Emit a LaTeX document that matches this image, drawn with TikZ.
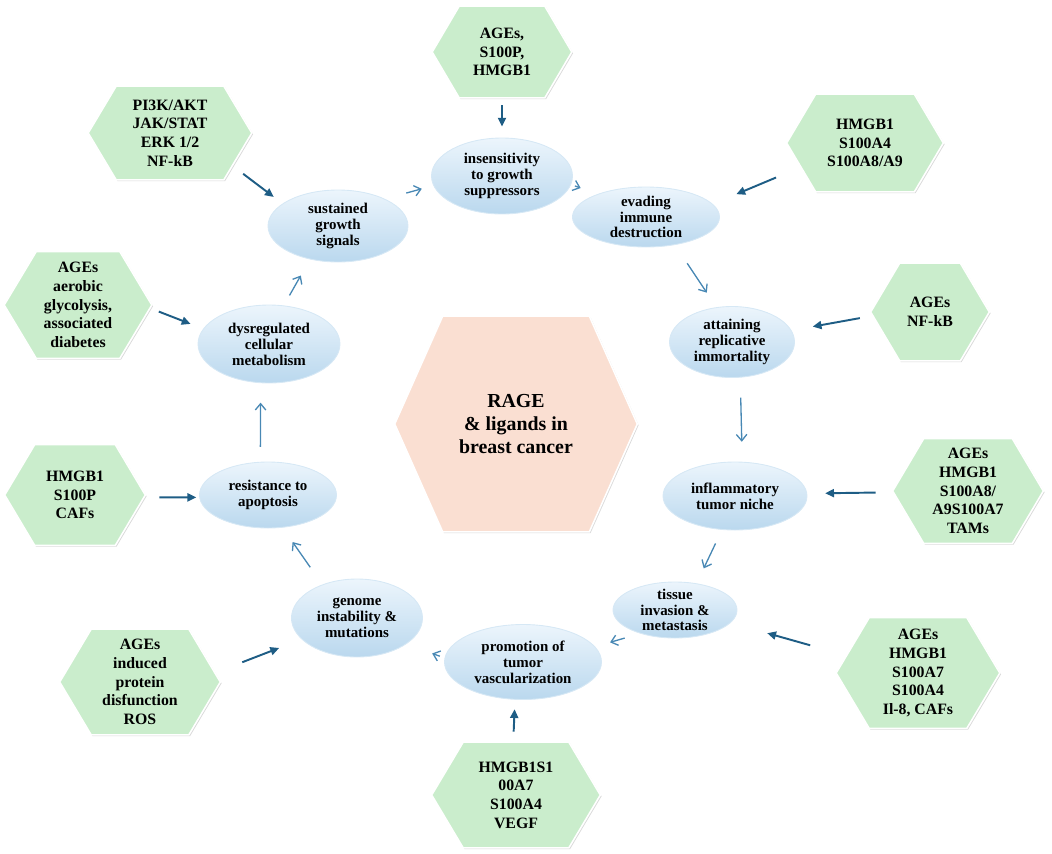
\documentclass[tikz,border=0pt]{standalone}
\usepackage{fontspec}
\setmainfont{Liberation Serif}
\usetikzlibrary{shapes.geometric,arrows.meta,shadows,backgrounds}
\definecolor{hexgreen}{RGB}{202,237,204}
\definecolor{ragepink}{RGB}{250,223,210}
\definecolor{elltop}{RGB}{236,245,252}
\definecolor{ellbottom}{RGB}{186,216,238}
\definecolor{darkarrow}{RGB}{30,93,133}
\definecolor{lightarrow}{RGB}{72,136,180}

\begin{document}
\begin{tikzpicture}[x=0.02cm,y=-0.02cm,
  hexa/.style={inner sep=0pt,align=center,font=\fontsize{9}{10.6}\selectfont\bfseries},
  hexsize/.style 2 args={minimum width=#1cm,minimum height=#2cm},
  hexline/.style={draw=white,line width=0.9pt,
    drop shadow={opacity=0.3,shadow xshift=0.7pt,shadow yshift=-0.7pt}},
  ell/.style={ellipse,inner sep=0pt,top color=elltop,bottom color=ellbottom,
    draw=ellbottom!60!white,line width=0.5pt,align=center,
    font=\fontsize{8.5}{9.1}\selectfont\bfseries},
  ellsize/.style 2 args={minimum width=#1cm,minimum height=#2cm},
  flat/.style={inner sep=-1.5pt,font=\fontsize{8.5}{8.8}\selectfont\bfseries},
  darr/.style={-{Triangle[length=5pt,width=4.6pt]},draw=darkarrow,line width=1.1pt},
  cyc/.style={-{Straight Barb[length=3.6pt,width=6pt]},draw=lightarrow,line width=0.75pt}]
\useasboundingbox (0,0) rectangle (1052,853);

\node[hexa,hexsize={4.84}{4.3},font=\fontsize{11.3}{13.2}\selectfont\bfseries] (rage) at (516,424) {RAGE\\\& ligands in\\breast cancer};

\node[ell,ellsize={2.82}{1.52}] (e1) at (502,176) {insensitivity\\to growth\\suppressors};
\node[ell,flat,ellsize={2.94}{1.2}] (e2) at (646,217) {evading\\immune\\destruction};
\node[ell,ellsize={2.8}{1.44}] (e3) at (338,226) {sustained\\growth\\signals};
\node[ell,ellsize={2.5}{1.42}] (e4) at (732,342) {attaining\\replicative\\immortality};
\node[ell,ellsize={2.84}{1.56}] (e5) at (269,344) {dysregulated\\cellular\\metabolism};
\node[ell,ellsize={2.88}{1.36}] (e6) at (735,496) {inflammatory\\tumor niche};
\node[ell,ellsize={2.74}{1.32}] (e7) at (268,495) {resistance to\\apoptosis};
\node[ell,flat,ellsize={2.48}{1.12}] (e8) at (675,610) {tissue\\invasion \&\\metastasis};
\node[ell,ellsize={2.62}{1.56}] (e9) at (357,618) {genome\\instability \&\\mutations};
\node[ell,ellsize={3.14}{1.5}] (e10) at (523,662) {promotion of\\tumor\\vascularization};

\node[hexa,hexsize={2.78}{1.82}] (h1) at (502,52) {AGEs,\\S100P,\\HMGB1};
\node[hexa,hexsize={3.26}{1.86}] (h2) at (170,133) {PI3K/AKT\\JAK/STAT\\ERK 1/2\\NF-kB};
\node[hexa,hexsize={3.12}{1.94}] (h3) at (865,143) {HMGB1\\S100A4\\S100A8/A9};
\node[hexa,hexsize={2.94}{2.12}] (h4) at (78,305) {AGEs\\aerobic\\glycolysis,\\associated\\diabetes};
\node[hexa,hexsize={2.36}{1.94}] (h5) at (930,312) {AGEs\\NF-kB};
\node[hexa,hexsize={2.8}{2.0}] (h6) at (75,495) {HMGB1\\S100P\\CAFs};
\node[hexa,hexsize={3.0}{2.08}] (h7) at (968,491) {AGEs\\HMGB1\\S100A8/\\A9S100A7\\TAMs};
\node[hexa,hexsize={3.2}{2.1}] (h8) at (140,682) {AGEs\\induced\\protein\\disfunction\\ROS};
\node[hexa,hexsize={3.26}{2.2}] (h9) at (918,673) {AGEs\\HMGB1\\S100A7\\S100A4\\Il-8, CAFs};
\node[hexa,hexsize={3.36}{2.1}] (h10) at (516,795) {HMGB1S1\\00A7\\S100A4\\VEGF};

\begin{scope}[on background layer]
\foreach \n/\c/\f in {rage/0.96/ragepink,h1/0.54/hexgreen,h2/0.56/hexgreen,h3/0.58/hexgreen,
    h4/0.64/hexgreen,h5/0.58/hexgreen,h6/0.6/hexgreen,h7/0.62/hexgreen,h8/0.63/hexgreen,
    h9/0.66/hexgreen,h10/0.63/hexgreen}
  \draw[hexline,fill=\f] (\n.west)--([xshift=\c cm]\n.north west)--([xshift=-\c cm]\n.north east)
    --(\n.east)--([xshift=-\c cm]\n.south east)--([xshift=\c cm]\n.south west)--cycle;
\end{scope}

\draw[darr][shorten <=0.15cm,shorten >=0.22cm] (h1.south)--(e1.north);
\draw[darr][shorten <=-0.2cm,shorten >=0.22cm] (h2.-30)--(e3.158);
\draw[darr][shorten <=0.23cm,shorten >=0.51cm] (h3.201)--(e2.11);
\draw[darr][shorten <=0.15cm,shorten >=0.27cm] (h4.-3)--(e5.167);
\draw[darr][shorten <=0.22cm,shorten >=0.43cm] (h5.184)--(e4.11);
\draw[darr][shorten <=0.28cm,shorten >=0.06cm] (h6.-2)--(e7.182);
\draw[darr][shorten <=0.34cm,shorten >=0.36cm] (h7.181)--(e6.2);
\draw[darr][shorten <=0.47cm,shorten >=0.48cm] (h8.8)--(e9.201);
\draw[darr][shorten <=0.54cm,shorten >=0.76cm] (h9.166)--(e8.-13);
\draw[darr][shorten <=0.21cm,shorten >=0.19cm] (h10.93)--(e10.-102);

\draw[cyc][shorten <=0.44cm,shorten >=0.24cm] (e3.30)--(e1.188);
\draw[cyc][shorten <=0.08cm,shorten >=0.35cm] (e1.-7)--(e2.155);
\draw[cyc][shorten <=0.44cm,shorten >=0.35cm] (e2.-44)--(e4.114);
\draw[cyc][shorten <=0.4cm,shorten >=0.4cm] (e4.-77)--(e6.78);
\draw[cyc][shorten <=0.3cm,shorten >=0.33cm] (e6.-111)--(e8.51);
\draw[cyc][shorten <=0.32cm,shorten >=0.31cm] (e8.-146)--(e10.12);
\draw[cyc][shorten <=0.1cm,shorten >=0.55cm] (e10.177)--(e9.-28);
\draw[cyc][shorten <=0.42cm,shorten >=0.35cm] (e9.136)--(e7.-66);
\draw[cyc][shorten <=0.3cm,shorten >=0.39cm] (e7.103)--(e5.-102);
\draw[cyc][shorten <=0.23cm,shorten >=0.37cm] (e5.69)--(e3.-130);
\end{tikzpicture}
\end{document}
